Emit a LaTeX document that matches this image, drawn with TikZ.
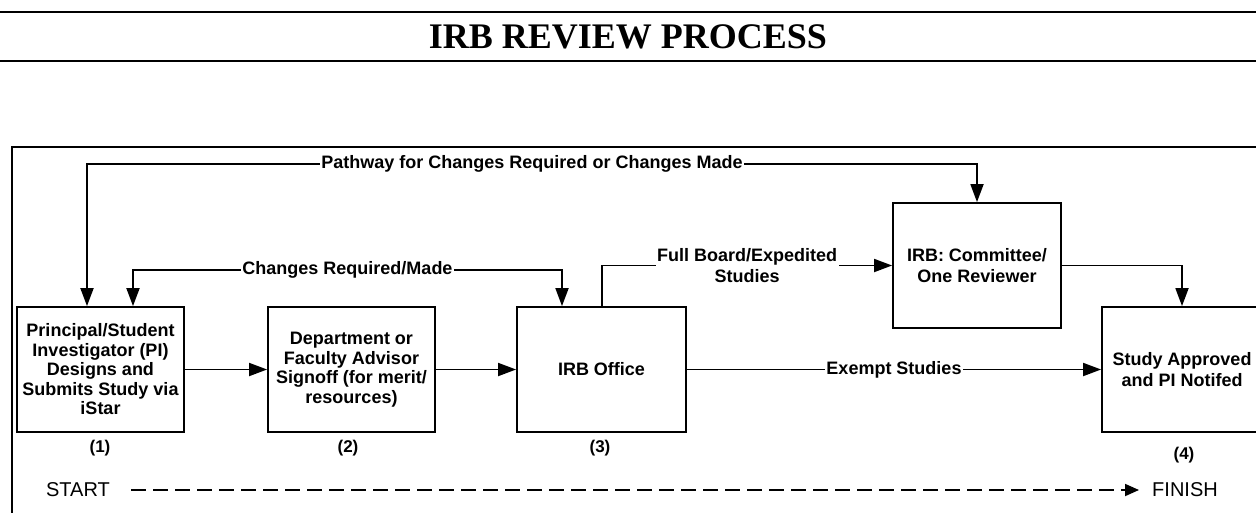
\documentclass[tikz,border=0pt]{standalone}
\usepackage{fontspec}
\setmainfont{Liberation Sans}
\newfontfamily\titlefont{Liberation Serif}
\usetikzlibrary{arrows.meta}
\begin{document}
\begin{tikzpicture}[x=1pt,y=-1pt,
  box/.style={draw,line width=1.8pt,minimum width=167pt,minimum height=125pt,align=center,
    font=\bfseries\fontsize{18}{19.5}\selectfont,inner sep=0pt},
  conn/.style={line width=1.8pt},
  tip/.style={-{Triangle[length=18pt,width=13pt]}},
  tips/.style={{Triangle[length=18pt,width=13pt]}-{Triangle[length=18pt,width=13pt]}},
  lbl/.style={fill=white,inner sep=1.5pt,font=\bfseries\fontsize{18}{21}\selectfont,align=center},
  num/.style={font=\bfseries\fontsize{17}{20}\selectfont},
  se/.style={font=\fontsize{20}{24}\selectfont,inner sep=0pt}
]
\useasboundingbox (0,0) rectangle (1256,512);
\clip (0,0) rectangle (1256,512);
% title
\draw[line width=2.5pt] (0,12) -- (1256,12);
\draw[line width=2.5pt] (0,61) -- (1256,61);
\node[font=\titlefont\bfseries\fontsize{36}{40}\selectfont] (title) at (628,37) {IRB REVIEW PROCESS};
% frame
\draw[line width=1.8pt] (12,530) -- (12,147) -- (1270,147);
% boxes
\node[box] (b1) at (100.5,369.5) {Principal/Student\\Investigator (PI)\\Designs and\\Submits Study via\\iStar};
\node[box] (b2) at (351.5,369.5) {Department or\\Faculty Advisor\\Signoff (for merit/\\resources)};
\node[box,minimum width=169pt] (b3) at (601.5,369.5) {IRB Office};
\node[box,minimum width=168pt,font=\bfseries\fontsize{18}{20.5}\selectfont] (com) at (977,265.5) {IRB: Committee/\\One Reviewer};
\node[box,minimum width=160pt,font=\bfseries\fontsize{18}{20.5}\selectfont] (b4) at (1182,369.5) {Study Approved\\and PI Notifed};
% numbers
\node[num] (n1) at (100,448) {(1)};
\node[num] (n2) at (348,448) {(2)};
\node[num] (n3) at (600,448) {(3)};
\node[num] (n4) at (1184,455) {(4)};
% connector coordinates
\coordinate (p1) at (87,164);
\coordinate (p2) at (977,164);
\coordinate (q1) at (133,270);
\coordinate (q2) at (562,270);
\coordinate (r1) at (602,265.5);
% connectors
\draw[conn,tips] (b1.north -| p1) -- (p1) -- node[lbl]{Pathway for Changes Required or Changes Made} (p2) -- (com.north);
\draw[conn,tips] (b1.north -| q1) -- (q1) -- node[lbl]{Changes Required/Made} (q2) -- (b3.north -| q2);
\draw[conn,tip] (b3.north -| r1) -- (r1) -- node[lbl]{Full Board/Expedited\\Studies} (com.west);
\draw[conn,tip] (com.east) -| (b4.north);
\draw[conn,tip] (b1.east) -- (b2.west);
\draw[conn,tip] (b2.east) -- (b3.west);
\draw[conn,tip] (b3.east) -- node[lbl]{Exempt Studies} (b4.west);
% start / finish
\node[se] (start) at (78,490) {START};
\node[se] (finish) at (1185,490) {FINISH};
\draw[line width=1.8pt,dash pattern=on 15pt off 7pt,-{Triangle[length=14pt,width=12pt]}] ([xshift=21pt]start.east) -- ([xshift=-13pt]finish.west);
\end{tikzpicture}
\end{document}
